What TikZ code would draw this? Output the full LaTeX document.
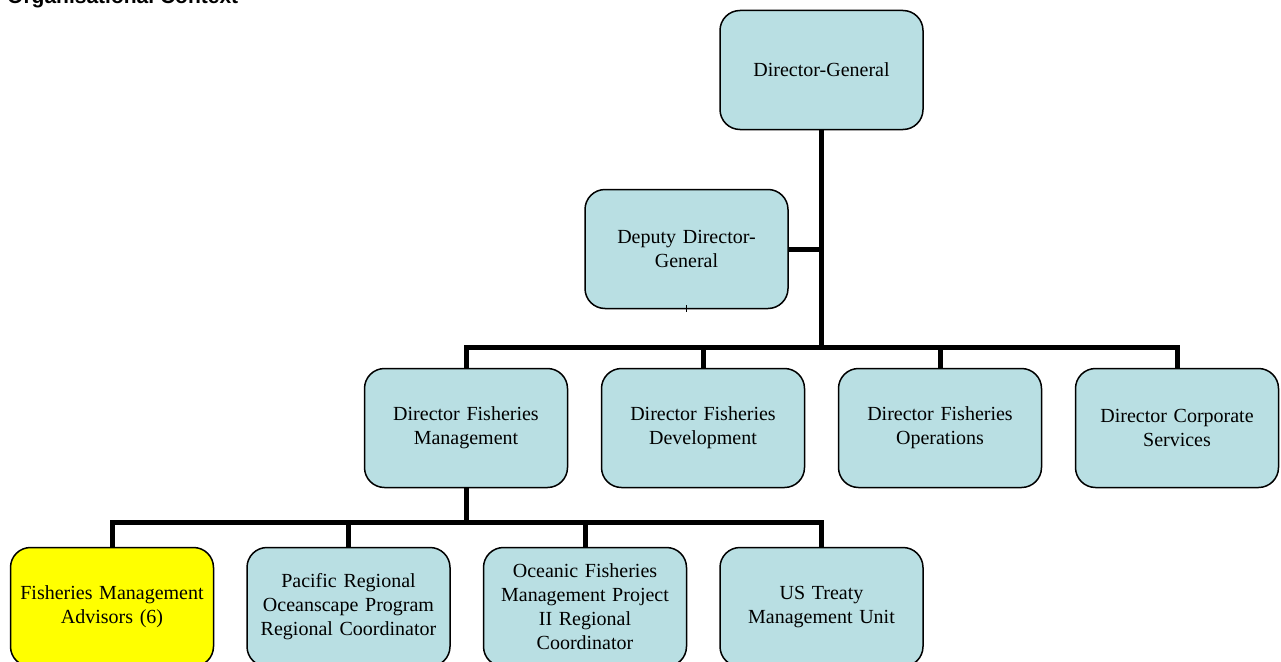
\documentclass[tikz,border=0pt]{standalone}
\usepackage{fontspec}
\setmainfont{Liberation Serif}
\newfontfamily\titlefont{Liberation Sans}
\usetikzlibrary{positioning}
\definecolor{boxblue}{RGB}{185,223,227}
\definecolor{advisoryellow}{RGB}{255,255,0}
\tikzset{org box/.style={rectangle, rounded corners=20pt, draw, line width=1.5pt, fill=boxblue,
    minimum width=203pt, minimum height=119pt, text width=195pt, align=center,
    inner sep=3pt, font=\fontsize{20}{24}\selectfont},
  link/.style={line width=5pt},}

\begin{document}
\begin{tikzpicture}[x=1pt,y=1pt]
        \useasboundingbox (0,0) rectangle (1281,-661);
        \clip (0,0) rectangle (1281,-661);
        % Title
        \node[anchor=base west, inner sep=0pt, font=\titlefont\bfseries\fontsize{21}{24}\selectfont] (title) at (7,-4) {Organisational Context};
        % Nodes
        \node[org box] (dg) at (821.5,-70) {Director-General};
        \node[org box] (ddg) at (686.5,-249) {Deputy Director-\\General};
        \node[org box] (dfm) at (466,-428) {Director Fisheries\\Management};
        \node[org box] [right = 32.5pt of dfm] (dfd) {Director Fisheries\\Development};
        \node[org box] [right = 32.5pt of dfd] (dfo) {Director Fisheries\\Operations};
        \node[org box] [right = 32.5pt of dfo] (dcs) {Director Corporate\\Services};
        \node[org box, fill=advisoryellow] (fma) at (112,-607) {Fisheries Management\\Advisors (6)};
        \node[org box] [right = 32pt of fma] (prop) {Pacific Regional\\Oceanscape Program\\Regional Coordinator};
        \node[org box] [right = 32pt of prop] (ofmp) {Oceanic Fisheries\\Management Project\\II Regional\\Coordinator};
        \node[org box] [right = 32pt of ofmp] (ust) {US Treaty\\Management Unit};
        \coordinate (bus2) at (821.5,-347);
        \coordinate (bus3) at (466,-522);
        % Paths
        \draw[link] (dg.south) -- (bus2);
        \draw[link] (ddg.east) -- (ddg.east -| dg.south);
        \draw[link] (dfm.north) |- (bus2) -| (dcs.north);
        \draw[link] (dfd.north) -- (dfd.north |- bus2);
        \draw[link] (dfo.north) -- (dfo.north |- bus2);
        \draw[link] (dfm.south) -- (bus3);
        \draw[link] (fma.north) |- (bus3) -| (ust.north);
        \draw[link] (prop.north) -- (prop.north |- bus3);
        \draw[link] (ofmp.north) -- (ofmp.north |- bus3);
        \draw[line width=0.6pt] (ddg.south) ++(0,4) -- ++(0,-7);
    \end{tikzpicture}
\end{document}
